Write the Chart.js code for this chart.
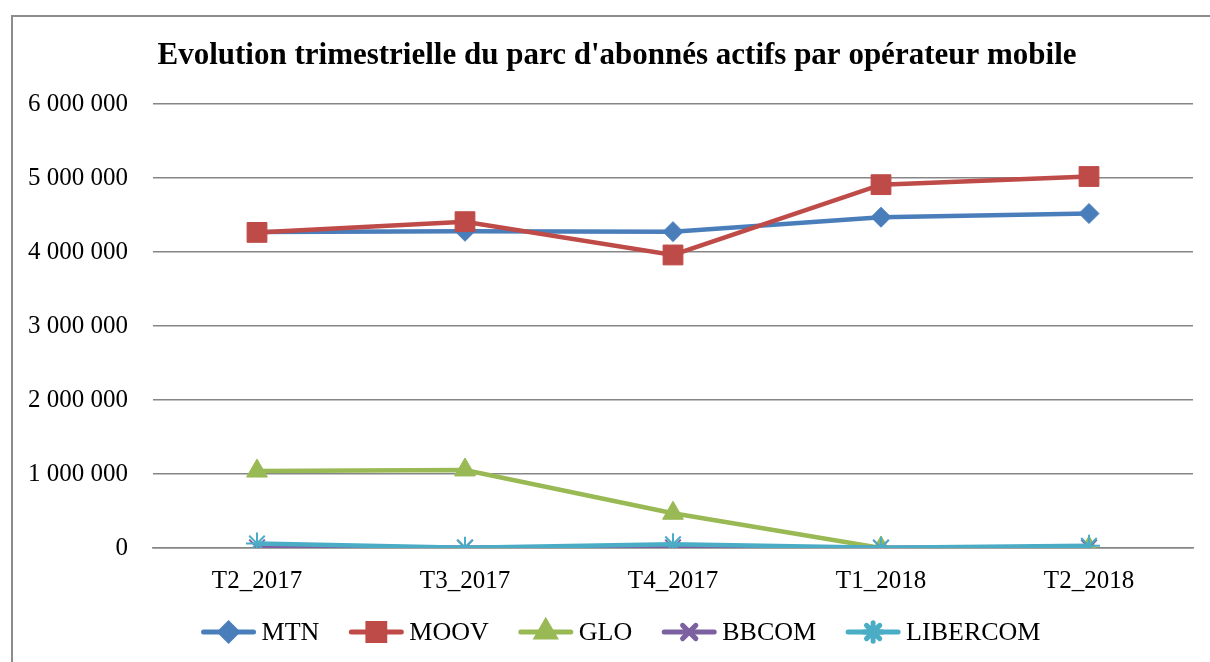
<!DOCTYPE html>
<html>
<head>
<meta charset="utf-8">
<script src="https://cdn.jsdelivr.net/npm/chart.js@4"></script>
<style>
  body { margin: 0; background: #fff; overflow: hidden; }
  #wrap { position: relative; width: 1210px; height: 662px; }
  #frame { position: absolute; left: 11px; top: 15px; width: 1300px; height: 700px; border: 2px solid #8c8c8c; }
  canvas { position: absolute; left: 0; top: 0; }
</style>
</head>
<body>
<div id="wrap">
  <div id="frame"></div>
  <canvas id="chart" width="1210" height="662"></canvas>
</div>
<script>
const quarters = ['T2_2017', 'T3_2017', 'T4_2017', 'T1_2018', 'T2_2018'];
const mtn = [4270000, 4280000, 4275000, 4470000, 4520000];
const moov = [4265000, 4410000, 3960000, 4910000, 5020000];
const glo = [1040000, 1055000, 470000, 0, 0];
const bbcom = [8000, 6000, 8000, 5000, 6000];
const libercom = [60000, 5000, 50000, 5000, 30000];

const chartTitle = "Evolution trimestrielle du parc d'abonnés actifs par opérateur mobile";
const serif = "'Liberation Serif', 'Times New Roman', serif";

const series = [
  { label: 'MTN', data: mtn, color: '#4A7EBB', style: 'rectRot', r: 10, order: 5 },
  { label: 'MOOV', data: moov, color: '#BE4B48', style: 'rect', r: 14, order: 4 },
  { label: 'GLO', data: glo, color: '#98B954', style: 'triangle', r: 12, order: 3 },
  { label: 'BBCOM', data: bbcom, color: '#7D60A0', style: 'crossRot', r: 11, order: 2 },
  { label: 'LIBERCOM', data: libercom, color: '#4BACC6', style: 'star', r: 11, order: 1 },
];

const thin = (s) => s.style === 'star' || s.style === 'crossRot';
const fmt = (v) => String(v).replace(/\B(?=(\d{3})+(?!\d))/g, ' ');

// title and Excel style legend (line with marker) drawn by hand
const decorations = {
  id: 'decorations',
  afterDraw(chart) {
    const ctx = chart.ctx;
    ctx.save();
    ctx.fillStyle = '#000';
    ctx.textAlign = 'center';
    ctx.textBaseline = 'middle';
    ctx.font = `bold 31px ${serif}`;
    ctx.fillText(chartTitle, 617, 56);

    ctx.textAlign = 'left';
    ctx.font = `26px ${serif}`;
    const lineLen = 50, gap = 8, spacing = 32, y = 632;
    const widths = series.map((s) => ctx.measureText(s.label).width);
    const total = widths.reduce((a, w) => a + lineLen + gap + w, 0) + spacing * (series.length - 1);
    let x = 622 - total / 2;
    series.forEach((s, i) => {
      ctx.strokeStyle = s.color;
      ctx.lineWidth = 5;
      ctx.lineCap = 'round';
      ctx.beginPath();
      ctx.moveTo(x, y);
      ctx.lineTo(x + lineLen, y);
      ctx.stroke();
      ctx.fillStyle = s.color;
      Chart.helpers.drawPoint(ctx, {
        pointStyle: s.style,
        radius: s.r * 0.85,
        rotation: 0,
        borderWidth: thin(s) ? 2 : 1,
      }, x + lineLen / 2, y);
      ctx.fillStyle = '#000';
      ctx.fillText(s.label, x + lineLen + gap, y + 1);
      x += lineLen + gap + widths[i] + spacing;
    });
    ctx.restore();
  },
};

new Chart(document.getElementById('chart'), {
  type: 'line',
  data: {
    labels: quarters,
    datasets: series.map((s) => ({
      label: s.label,
      data: s.data,
      borderColor: s.color,
      backgroundColor: s.color,
      pointBorderColor: s.color,
      pointBackgroundColor: s.color,
      pointStyle: s.style,
      pointRadius: s.r,
      pointBorderWidth: thin(s) ? 2 : 1,
      borderWidth: 4.5,
      tension: 0,
      order: s.order,
    })),
  },
  options: {
    responsive: false,
    animation: false,
    layout: { padding: { left: 0, right: 17, top: 104, bottom: 54 } },
    plugins: {
      legend: { display: false },
      tooltip: { enabled: false },
      title: { display: false },
    },
    scales: {
      x: {
        offset: true,
        grid: { display: false, drawTicks: false },
        border: { color: '#868686', width: 1.5 },
        ticks: { color: '#000', padding: 18, font: { family: serif, size: 25 } },
        afterFit(scale) { scale.height = 60; },
      },
      y: {
        min: 0,
        max: 6000000,
        grid: { color: '#868686', lineWidth: 1.5, drawTicks: false },
        border: { display: false },
        ticks: {
          stepSize: 1000000,
          color: '#000',
          padding: 25,
          font: { family: serif, size: 25 },
          callback: (v) => fmt(v),
        },
        afterFit(scale) { scale.width = 153; },
      },
    },
  },
  plugins: [decorations],
});
</script>
</body>
</html>
